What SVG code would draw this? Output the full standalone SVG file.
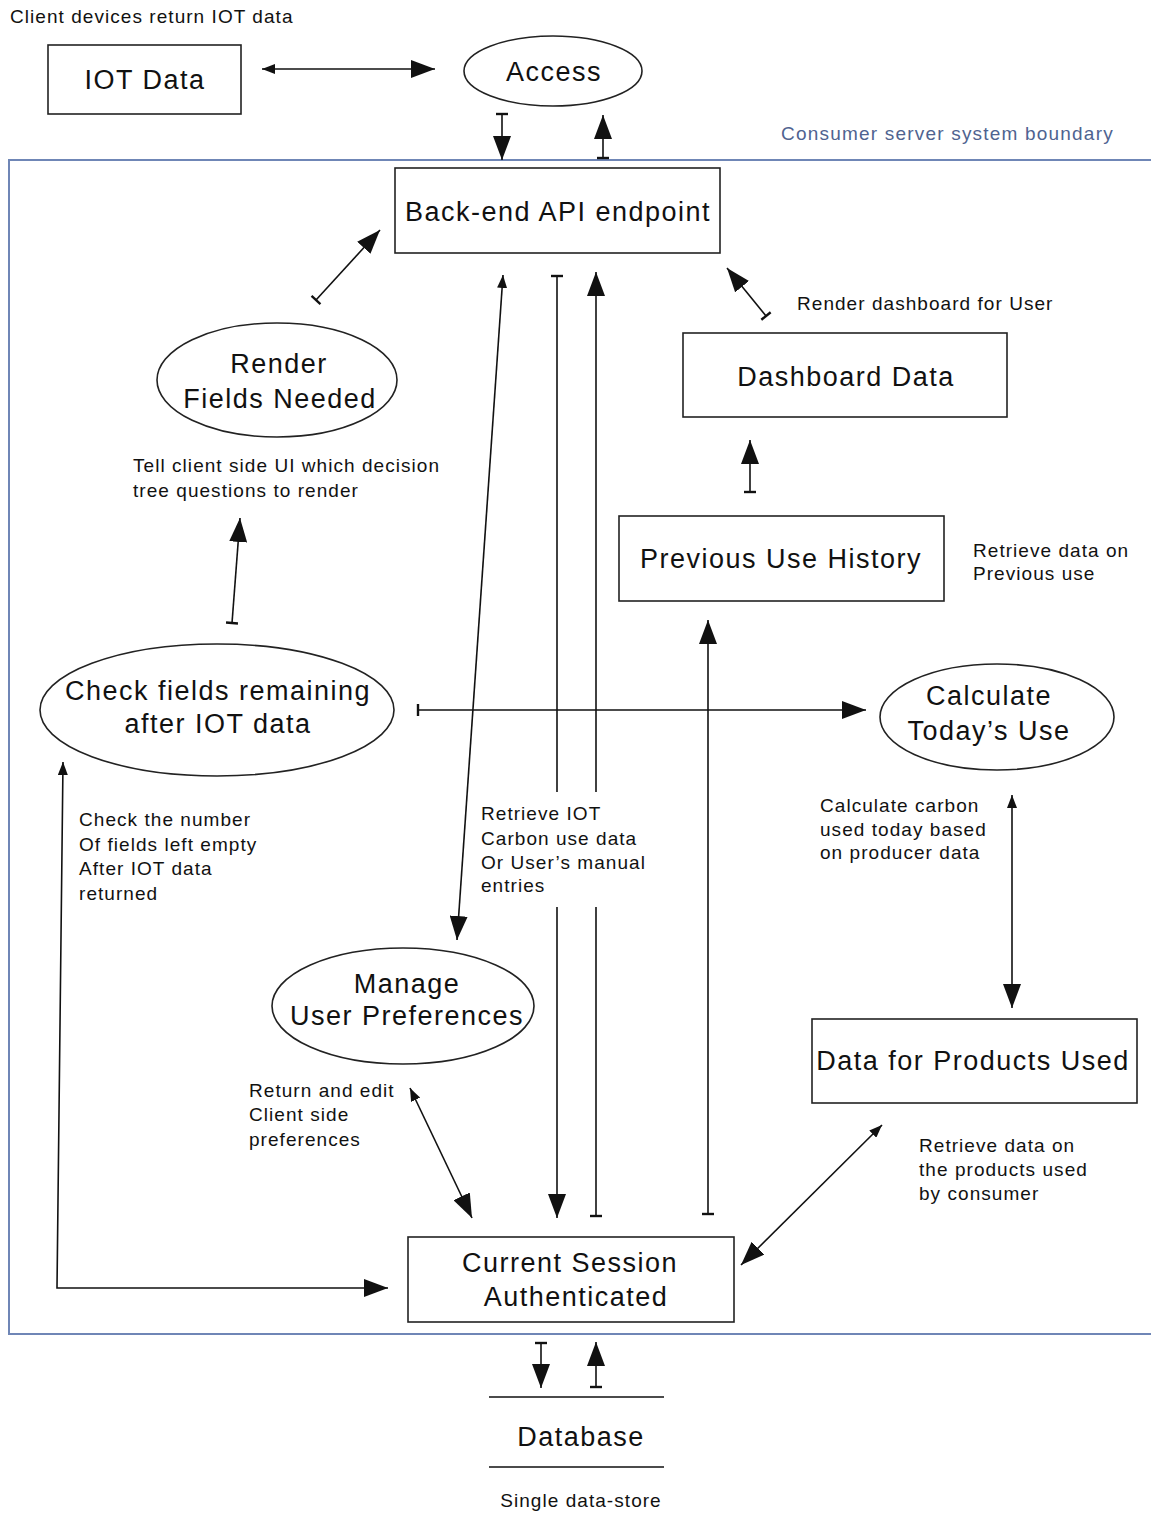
<svg xmlns="http://www.w3.org/2000/svg" width="1151" height="1513" viewBox="0 0 1151 1513">
  <style>
    .box { fill: #fff; stroke: #222; stroke-width: 1.6; }
    .ell { fill: #fff; stroke: #222; stroke-width: 1.6; }
    .big { font-family: "Liberation Sans", Arial, sans-serif; font-size: 27px; letter-spacing: 1.5px; fill: #111; text-anchor: middle; }
    .note { font-family: "Liberation Sans", Arial, sans-serif; font-size: 19px; letter-spacing: 1.05px; fill: #111; }
    .wire { fill: none; stroke: #111; stroke-width: 1.6; }
    .bound { fill: none; stroke: #6f86b6; stroke-width: 2; }
    .boundtxt { font-family: "Liberation Sans", Arial, sans-serif; font-size: 19px; letter-spacing: 1.2px; fill: #4f6390; }
  </style>
  <defs>
    <marker id="head" viewBox="0 0 24 18" refX="24" refY="9" markerWidth="24" markerHeight="18" markerUnits="userSpaceOnUse" orient="auto-start-reverse">
      <path d="M0,0 L24,9 L0,18 z" fill="#111"/>
    </marker>
    <marker id="tip" viewBox="0 0 13 10" refX="13" refY="5" markerWidth="13" markerHeight="10" markerUnits="userSpaceOnUse" orient="auto-start-reverse">
      <path d="M0,0 L13,5 L0,10 z" fill="#111"/>
    </marker>
    <marker id="tee" viewBox="-2 -7 4 14" refX="0" refY="0" markerWidth="4" markerHeight="14" markerUnits="userSpaceOnUse" orient="auto-start-reverse">
      <path d="M0,-6 L0,6" stroke="#111" stroke-width="2.4"/>
    </marker>
  </defs>

  <rect width="1151" height="1513" fill="#fff"/>

  <!-- system boundary -->
  <g id="boundary">
    <path class="bound" d="M1153,160 L9,160 L9,1334 L1153,1334"/>
    <text class="boundtxt" x="781" y="140">Consumer server system boundary</text>
  </g>

  <!-- connectors -->
  <g id="connectors">
    <path class="wire" d="M262,69 L435,69" marker-start="url(#tip)" marker-end="url(#head)"/>
    <path class="wire" d="M502,114 L502,160" marker-start="url(#tee)" marker-end="url(#head)"/>
    <path class="wire" d="M603,158 L603,115" marker-start="url(#tee)" marker-end="url(#head)"/>
    <path class="wire" d="M316,300 L380,230" marker-start="url(#tee)" marker-end="url(#head)"/>
    <path class="wire" d="M232,623 L240,518" marker-start="url(#tee)" marker-end="url(#head)"/>
    <path class="wire" d="M418,710 L866,710" marker-start="url(#tee)" marker-end="url(#head)"/>
    <path class="wire" d="M503,275 L457,940" marker-start="url(#tip)" marker-end="url(#head)"/>
    <path class="wire" d="M557,276 L557,792" marker-start="url(#tee)"/>
    <path class="wire" d="M557,907 L557,1218" marker-end="url(#head)"/>
    <path class="wire" d="M596,792 L596,272" marker-end="url(#head)"/>
    <path class="wire" d="M596,907 L596,1216" marker-end="url(#tee)"/>
    <path class="wire" d="M708,1214 L708,620" marker-start="url(#tee)" marker-end="url(#head)"/>
    <path class="wire" d="M766,316 L727,268" marker-start="url(#tee)" marker-end="url(#head)"/>
    <path class="wire" d="M750,492 L750,440" marker-start="url(#tee)" marker-end="url(#head)"/>
    <path class="wire" d="M1012,795 L1012,1008" marker-start="url(#tip)" marker-end="url(#head)"/>
    <path class="wire" d="M741,1265 L882,1125" marker-start="url(#head)" marker-end="url(#tip)"/>
    <path class="wire" d="M410,1088 L472,1218" marker-start="url(#tip)" marker-end="url(#head)"/>
    <path class="wire" d="M63,762 L57,1288 L388,1288" marker-start="url(#tip)" marker-end="url(#head)"/>
    <path class="wire" d="M541,1343 L541,1388" marker-start="url(#tee)" marker-end="url(#head)"/>
    <path class="wire" d="M596,1387 L596,1342" marker-start="url(#tee)" marker-end="url(#head)"/>
  </g>

  <!-- external source -->
  <g id="iot-data">
    <text class="note" x="10" y="23">Client devices return IOT data</text>
    <rect class="box" x="48" y="45" width="193" height="69"/>
    <text class="big" x="145" y="89">IOT Data</text>
  </g>

  <g id="access">
    <ellipse class="ell" cx="553" cy="71" rx="89" ry="35"/>
    <text class="big" x="554" y="81">Access</text>
  </g>

  <g id="backend-api">
    <rect class="box" x="395" y="168" width="325" height="85"/>
    <text class="big" x="558" y="221">Back-end API endpoint</text>
  </g>

  <g id="render-fields">
    <ellipse class="ell" cx="277" cy="380" rx="120" ry="57"/>
    <text class="big" x="279" y="373">Render</text>
    <text class="big" x="280" y="408">Fields Needed</text>
    <text class="note" x="133" y="472">Tell client side UI which decision</text>
    <text class="note" x="133" y="497">tree questions to render</text>
  </g>

  <g id="check-fields">
    <ellipse class="ell" cx="217" cy="710" rx="177" ry="66"/>
    <text class="big" x="218" y="700">Check fields remaining</text>
    <text class="big" x="218" y="733">after IOT data</text>
    <text class="note" x="79" y="826">Check the number</text>
    <text class="note" x="79" y="851">Of fields left empty</text>
    <text class="note" x="79" y="875">After IOT data</text>
    <text class="note" x="79" y="900">returned</text>
  </g>

  <g id="retrieve-iot-label">
    <text class="note" x="481" y="820">Retrieve IOT</text>
    <text class="note" x="481" y="845">Carbon use data</text>
    <text class="note" x="481" y="869">Or User’s manual</text>
    <text class="note" x="481" y="892">entries</text>
  </g>

  <g id="dashboard-data">
    <rect class="box" x="683" y="333" width="324" height="84"/>
    <text class="big" x="846" y="386">Dashboard Data</text>
    <text class="note" x="797" y="310">Render dashboard for User</text>
  </g>

  <g id="previous-use">
    <rect class="box" x="619" y="516" width="325" height="85"/>
    <text class="big" x="781" y="568">Previous Use History</text>
    <text class="note" x="973" y="557">Retrieve data on</text>
    <text class="note" x="973" y="580">Previous use</text>
  </g>

  <g id="calculate-today">
    <ellipse class="ell" cx="997" cy="717" rx="117" ry="53"/>
    <text class="big" x="989" y="705">Calculate</text>
    <text class="big" x="989" y="740">Today’s Use</text>
    <text class="note" x="820" y="812">Calculate carbon</text>
    <text class="note" x="820" y="836">used today based</text>
    <text class="note" x="820" y="859">on producer data</text>
  </g>

  <g id="products-used">
    <rect class="box" x="812" y="1019" width="325" height="84"/>
    <text class="big" x="973" y="1070">Data for Products Used</text>
    <text class="note" x="919" y="1152">Retrieve data on</text>
    <text class="note" x="919" y="1176">the products used</text>
    <text class="note" x="919" y="1200">by consumer</text>
  </g>

  <g id="user-preferences">
    <ellipse class="ell" cx="403" cy="1006" rx="131" ry="58"/>
    <text class="big" x="407" y="993">Manage</text>
    <text class="big" x="407" y="1025">User Preferences</text>
    <text class="note" x="249" y="1097">Return and edit</text>
    <text class="note" x="249" y="1121">Client side</text>
    <text class="note" x="249" y="1146">preferences</text>
  </g>

  <g id="current-session">
    <rect class="box" x="408" y="1237" width="326" height="85"/>
    <text class="big" x="570" y="1272">Current Session</text>
    <text class="big" x="576" y="1306">Authenticated</text>
  </g>

  <g id="database">
    <path class="wire" d="M489,1397 L664,1397 M489,1467 L664,1467"/>
    <text class="big" x="581" y="1446">Database</text>
    <text class="note" x="581" y="1507" text-anchor="middle">Single data-store</text>
  </g>
</svg>
